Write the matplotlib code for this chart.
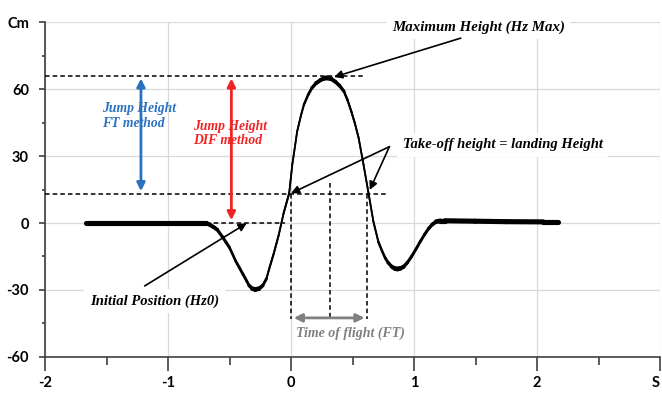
import numpy as np
import matplotlib.pyplot as plt
from matplotlib.collections import LineCollection

# vertical position of the centre of mass (cm) vs time (s)
time_s = [-1.67, -1.46, -1.10, -0.80, -0.69, -0.66, -0.63, -0.60, -0.56, -0.53,
          -0.50, -0.45, -0.42, -0.39, -0.36, -0.34, -0.315, -0.29, -0.26, -0.23,
          -0.20, -0.18, -0.14, -0.10, -0.06, -0.015, 0.01, 0.05, 0.08, 0.105,
          0.14, 0.17, 0.205, 0.24, 0.265, 0.29, 0.325, 0.36, 0.395, 0.43,
          0.46, 0.49, 0.52, 0.55, 0.59, 0.63, 0.67, 0.71, 0.74, 0.766,
          0.79, 0.82, 0.845, 0.866, 0.89, 0.915, 0.945, 0.98, 1.015, 1.05,
          1.085, 1.12, 1.15, 1.18, 1.215, 1.25, 1.50, 1.75, 2.05, 2.17]
height_cm = [0.0, 0.0, 0.0, 0.0, 0.0, -0.8, -1.8, -3.0, -6.0, -8.5,
             -11.0, -17.0, -20.0, -23.0, -26.0, -28.0, -29.4, -29.8, -29.4, -28.0,
             -25.0, -21.0, -13.6, -5.4, 4.4, 13.3, 26.0, 41.0, 48.0, 53.0,
             57.5, 60.5, 62.7, 64.0, 64.7, 65.0, 64.6, 63.3, 61.5, 59.0,
             55.0, 50.0, 44.5, 38.0, 26.0, 13.4, 0.6, -8.4, -12.5, -15.7,
             -17.8, -19.6, -20.4, -20.6, -20.3, -19.6, -17.8, -15.0, -11.8, -8.4,
             -5.2, -2.4, -0.6, 0.6, 1.0, 1.0, 0.8, 0.6, 0.5, 0.5]

x_ticks = [-2, -1, 0, 1, 2, 3]
x_labels = ['-2', '-1', '0', '1', '2', 'S']
y_ticks = [-60, -30, 0, 30, 60, 90]
y_labels = ['-60', '-30', '0', '30', '60', 'Cm']

h_zero = 0.0      # initial position
h_takeoff = 13.0  # take-off / landing height
h_max = 66.0      # maximum height
t_takeoff = 0.0
t_mid = 0.32
t_landing = 0.62

plt.rcParams['axes.unicode_minus'] = False

fig = plt.figure(figsize=(6.62, 3.94), dpi=100)
ax = fig.add_axes([0.068, 0.094, 0.929, 0.850])
ax.set_xlim(-2, 3)
ax.set_ylim(-60, 90)

# axes styling
for s in ['top', 'right']:
    ax.spines[s].set_visible(False)
for s in ['left', 'bottom']:
    ax.spines[s].set_color('#404040')
    ax.spines[s].set_linewidth(1.2)
ax.set_xticks(x_ticks)
ax.set_xticklabels(x_labels)
ax.set_yticks(y_ticks)
ax.set_yticklabels(y_labels)
ax.set_xticks(np.arange(-1.5, 3, 1.0), minor=True)
ax.set_yticks(np.arange(-45, 90, 30), minor=True)
ax.tick_params(axis='x', which='major', length=10, width=1.2, pad=4, color='#404040')
ax.tick_params(axis='x', which='minor', length=6, width=1.2, color='#404040')
ax.tick_params(axis='y', which='major', length=4.5, width=1.2, pad=7, color='#404040')
ax.tick_params(axis='y', which='minor', length=2.5, width=1.2, color='#404040')
for lab in ax.get_xticklabels() + ax.get_yticklabels():
    lab.set_fontfamily('Lato')
    lab.set_fontweight('bold')
    lab.set_fontsize(10.5)
ax.get_xticklabels()[-1].set_horizontalalignment('right')  # keep "S" inside the figure
ax.grid(True, which='major', color='#d9d9d9', lw=0.9, zorder=0)
ax.set_axisbelow(True)

# curve: thin base line plus a thicker stroke where it moves slowly
ax.plot(time_s, height_cm, color='black', lw=1.3, zorder=4)
pts = ax.transData.transform(np.column_stack([time_s, height_cm]))
segs = np.stack([np.column_stack([time_s[:-1], height_cm[:-1]]),
                 np.column_stack([time_s[1:], height_cm[1:]])], axis=1)
d = np.diff(pts, axis=0)
slope = np.abs(d[:, 1]) / np.maximum(np.abs(d[:, 0]), 1e-6)
widths = np.clip(3.7 / (1 + 0.45 * slope), 1.2, None)
lc = LineCollection(segs, linewidths=widths, colors='black', capstyle='round',
                    joinstyle='round', zorder=4)
ax.add_collection(lc)

# dashed guide lines
dash = dict(color='black', lw=1.1, ls=(0, (3, 2)), zorder=3)
ax.plot([-2, 0.59], [h_max, h_max], **dash)
ax.plot([-2, 0.78], [h_takeoff, h_takeoff], **dash)
ax.plot([-0.69, -0.05], [h_zero, h_zero], **dash)
ax.plot([t_takeoff, t_takeoff], [h_takeoff, -43], **dash)
ax.plot([t_mid, t_mid], [18, -43], **dash)
ax.plot([t_landing, t_landing], [h_takeoff, -43], **dash)

# coloured double arrows
ax.annotate('', xy=(-1.22, h_max), xytext=(-1.22, h_takeoff),
            arrowprops=dict(arrowstyle='<|-|>', color='#2a72c0', lw=2, mutation_scale=12))
ax.annotate('', xy=(-0.485, h_max), xytext=(-0.485, h_zero),
            arrowprops=dict(arrowstyle='<|-|>', color='#f02424', lw=2, mutation_scale=12))
ax.annotate('', xy=(t_takeoff, -42.5), xytext=(t_landing, -42.5),
            arrowprops=dict(arrowstyle='<|-|>', color='#808080', lw=2, mutation_scale=12))

serif = dict(family='Liberation Serif', style='italic', weight='bold')
ax.text(-1.54, 48, 'Jump Height\nFT method', color='#2a72c0', fontsize=9.8,
        ha='left', va='center', linespacing=1.15, zorder=5, **serif)
ax.text(-0.795, 40, 'Jump Height\nDIF method', color='#f02424', fontsize=9.8,
        ha='left', va='center', linespacing=1.15, zorder=5, **serif)
ax.text(0.04, -49.3, 'Time of flight (FT)', color='#7f7f7f', fontsize=10,
        ha='left', va='center', zorder=5, **serif)

# black annotations
arw = dict(arrowstyle='-|>', color='black', lw=1.2, mutation_scale=12,
           shrinkA=0, shrinkB=0)
box = dict(facecolor='white', edgecolor='none', pad=4)
ax.text(0.82, 87.8, 'Maximum Height (Hz Max)', fontsize=10.7, ha='left', va='center',
        bbox=box, zorder=5, **serif)
ax.annotate('', xy=(0.35, 65.4), xytext=(1.38, 82.8), arrowprops=arw, zorder=6)
ax.text(0.91, 35, 'Take-off height = landing Height', fontsize=10.5, ha='left',
        va='center', bbox=box, zorder=5, **serif)
ax.annotate('', xy=(0.0, 13.3), xytext=(0.80, 34.2), arrowprops=arw, zorder=6)
ax.annotate('', xy=(0.64, 14.8), xytext=(0.80, 34.2), arrowprops=arw, zorder=6)
ax.text(-1.634, -35, 'Initial Position (Hz0)', fontsize=10.5, ha='left',
        va='center', bbox=box, zorder=5, **serif)
ax.annotate('', xy=(-0.36, -0.1), xytext=(-1.19, -28.2), arrowprops=arw, zorder=6)

fig.savefig('out.png', dpi=100)
